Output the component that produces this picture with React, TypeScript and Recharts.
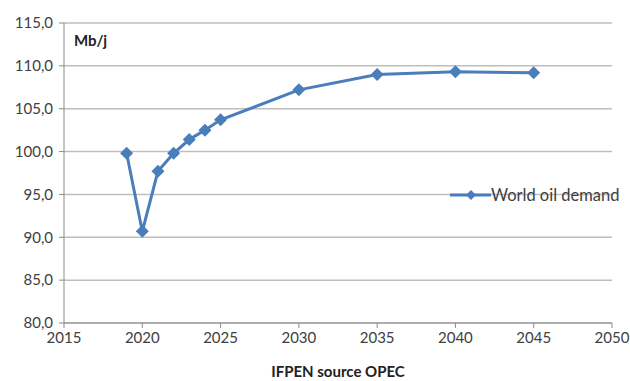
import { CartesianGrid, Line, LineChart, XAxis, YAxis } from "recharts";

const years = [2019, 2020, 2021, 2022, 2023, 2024, 2025, 2030, 2035, 2040, 2045];
const demand = [99.8, 90.7, 97.7, 99.8, 101.4, 102.5, 103.7, 107.2, 109.0, 109.3, 109.2];
const xTicks = [2015, 2020, 2025, 2030, 2035, 2040, 2045, 2050];
const yTicks = [80, 85, 90, 95, 100, 105, 110, 115];

const BLUE = "#4A7EBB";
const FONT = "Lato, 'Open Sans', sans-serif";

const rows = years.map((y, i) => ({ year: y, demand: demand[i] }));

function Diamond(props: any) {
  const { cx, cy } = props;
  const r = 6.5;
  if (cx == null || cy == null) return null;
  return (
    <polygon
      points={`${cx},${cy - r} ${cx + r},${cy} ${cx},${cy + r} ${cx - r},${cy}`}
      fill={BLUE}
    />
  );
}

export default function App() {
  return (
    <div style={{ position: "absolute", left: 0, top: 0, width: 630, height: 381, background: "#fff" }}>
      <LineChart
        width={630}
        height={381}
        data={rows}
        margin={{ top: 23, right: 18, left: 8, bottom: 17 }}
      >
        <CartesianGrid vertical={false} stroke="#BEBEBE" strokeWidth={1.5} />
        <XAxis
          dataKey="year"
          type="number"
          domain={[2015, 2050]}
          ticks={xTicks}
          interval={0}
          height={41}
          tick={{ fontSize: 15, fill: "#404040", fontFamily: FONT }}
          tickSize={5}
          tickMargin={4}
          axisLine={{ stroke: "#8C8C8C" }}
          tickLine={{ stroke: "#8C8C8C" }}
        />
        <YAxis
          type="number"
          domain={[80, 115]}
          ticks={yTicks}
          interval={0}
          width={56}
          tick={{ fontSize: 15, fill: "#404040", fontFamily: FONT }}
          tickFormatter={(v: number) => v.toFixed(1).replace(".", ",")}
          tickSize={5}
          tickMargin={6}
          axisLine={{ stroke: "#8C8C8C" }}
          tickLine={{ stroke: "#8C8C8C" }}
        />
        <Line
          dataKey="demand"
          name="World oil demand"
          stroke={BLUE}
          strokeWidth={3}
          dot={(p: any) => <Diamond key={p.index} {...p} />}
          activeDot={false}
          isAnimationActive={false}
        />
      </LineChart>
      <div
        style={{
          position: "absolute",
          left: 450,
          top: 185,
          display: "flex",
          alignItems: "center",
          fontFamily: FONT,
          fontSize: 16.5,
          color: "#404040",
        }}
      >
        <svg width={41} height={16}>
          <line x1={0} y1={8} x2={41} y2={8} stroke={BLUE} strokeWidth={3} />
          <polygon points="21,3 26,8 21,13 16,8" fill={BLUE} />
        </svg>
        <span>World oil demand</span>
      </div>
      <div
        style={{
          position: "absolute",
          left: 74,
          top: 31,
          fontFamily: FONT,
          fontWeight: 700,
          fontSize: 15,
          color: "#222",
        }}
      >
        Mb/j
      </div>
      <div
        style={{
          position: "absolute",
          left: 0,
          width: 676,
          top: 362,
          textAlign: "center",
          fontFamily: FONT,
          fontWeight: 700,
          fontSize: 15,
          color: "#222",
        }}
      >
        IFPEN source OPEC
      </div>
    </div>
  );
}
